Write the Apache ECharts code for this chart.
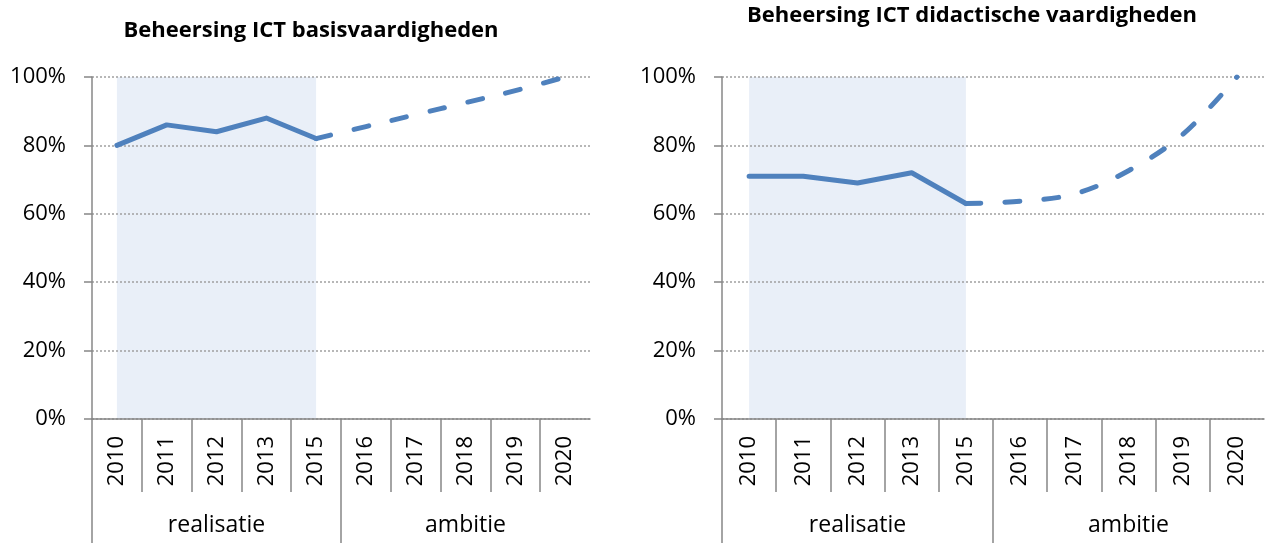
<!DOCTYPE html>
<html><head><meta charset="utf-8">
<script src="https://cdn.jsdelivr.net/npm/echarts@6/dist/echarts.min.js"></script>
<style>html,body{margin:0;padding:0;background:#fff}#c{width:1266px;height:543px}</style>
</head><body><div id="c"></div>
<script>
const years = ['2010','2011','2012','2013','2015','2016','2017','2018','2019','2020'];
const groups = ['realisatie','ambitie'];
const titles = ['Beheersing ICT basisvaardigheden','Beheersing ICT didactische vaardigheden'];
// left chart: basisvaardigheden (%)
const basisRealisatie = [80, 86, 84, 88, 82, null, null, null, null, null];
const basisAmbitie    = [null, null, null, null, 82, 85.5, 89, 92.5, 96, 100];
// right chart: didactische vaardigheden (%)
const didaRealisatie  = [71, 71, 69, 72, 63, null, null, null, null, null];
const didaAmbitie     = [null, null, null, null, 63, 63.7, 65.8, 72.6, 83.2, 100];

const FONT = '"Open Sans", "Liberation Sans", sans-serif';
const AXIS = '#878787';
const BLUE = '#4F81BD';
const SHADE = '#E9EFF8';

const grids = [
  {left: 92, top: 77, width: 498, height: 342},
  {left: 722, top: 77, width: 542, height: 342}
];

const xAxis = [], yAxis = [], series = [];
grids.forEach((g, i) => {
  // year categories (series axis)
  xAxis.push({
    type: 'category', gridIndex: i, data: years, boundaryGap: true, position: 'bottom', offset: 0,
    axisLine: {show: true, lineStyle: {color: AXIS, width: 1.5}},
    axisTick: {show: false},
    axisLabel: {interval: 0, rotate: 90, margin: 17, fontSize: 22, color: '#000', fontFamily: FONT}
  });
  // year separators
  xAxis.push({
    type: 'value', gridIndex: i, min: 0, max: years.length, position: 'bottom', offset: 0,
    axisLine: {show: false}, splitLine: {show: false},
    axisTick: {show: true, length: 73, customValues: years.map((_, k) => k), lineStyle: {color: AXIS, width: 1.5}},
    axisLabel: {show: false}
  });
  // group separators and labels
  xAxis.push({
    type: 'value', gridIndex: i, min: 0, max: years.length, position: 'bottom', offset: 0,
    axisLine: {show: false}, splitLine: {show: false},
    axisTick: {show: true, length: 130, customValues: [0, 5], lineStyle: {color: AXIS, width: 1.5}},
    axisLabel: {show: true, customValues: [2.5, 7.5], margin: 95, fontSize: 23, color: '#000', fontFamily: FONT,
      formatter: v => groups[v < 5 ? 0 : 1]}
  });
  yAxis.push({
    type: 'value', gridIndex: i, min: 0, max: 100, interval: 20,
    axisLine: {show: true, lineStyle: {color: AXIS, width: 1.5}},
    axisTick: {show: true, length: 8, lineStyle: {color: AXIS, width: 1.5}},
    axisLabel: {formatter: '{value}%', margin: 26, fontSize: 22, color: '#000', fontFamily: FONT},
    splitLine: {show: true, lineStyle: {color: '#A0A0A0', width: 1.5, type: [2, 2]}}
  });
  const xi = i * 3;
  const real = i === 0 ? basisRealisatie : didaRealisatie;
  const amb = i === 0 ? basisAmbitie : didaAmbitie;
  series.push({
    type: 'line', xAxisIndex: xi, yAxisIndex: i, data: [], z: -1, silent: true,
    markArea: {silent: true, z: -1, itemStyle: {color: SHADE},
      data: [[{xAxis: years[0], yAxis: 0}, {xAxis: years[4], yAxis: 100}]]}
  });
  series.push({
    type: 'line', xAxisIndex: xi, yAxisIndex: i, data: real, symbol: 'none', connectNulls: false,
    lineStyle: {color: BLUE, width: 5, cap: 'round', join: 'round'}
  });
  series.push({
    type: 'line', xAxisIndex: xi, yAxisIndex: i, data: amb, symbol: 'none', smooth: 0.35,
    lineStyle: {color: BLUE, width: 5, type: [15, 24], cap: 'round', join: 'round'}
  });
});

const chart = echarts.init(document.getElementById('c'), null, {renderer: 'canvas'});
chart.setOption({
  animation: false,
  backgroundColor: '#fff',
  title: [
    {text: titles[0], left: 306, top: 15, textAlign: 'center',
     textStyle: {fontFamily: FONT, fontWeight: 'bold', fontSize: 22, color: '#000'}},
    {text: titles[1], left: 967, top: 0, textAlign: 'center',
     textStyle: {fontFamily: FONT, fontWeight: 'bold', fontSize: 22, color: '#000'}}
  ],
  grid: grids,
  xAxis: xAxis,
  yAxis: yAxis,
  series: series
});
</script></body></html>
